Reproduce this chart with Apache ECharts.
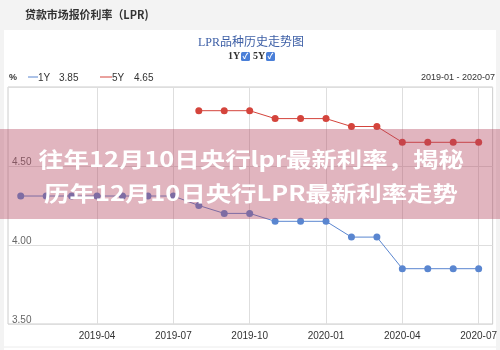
<!DOCTYPE html>
<html><head><meta charset="utf-8">
<script src="https://cdn.jsdelivr.net/npm/echarts@6/dist/echarts.min.js"></script>
<style>html,body{margin:0;padding:0;background:#f3f3f3}#c{width:500px;height:350px}</style>
</head><body><div id="c"></div>
<script>
// ---- data ----
const months = ["2019-01","2019-02","2019-03","2019-04","2019-05","2019-06","2019-07","2019-08","2019-09","2019-10","2019-11","2019-12","2020-01","2020-02","2020-03","2020-04","2020-05","2020-06","2020-07"];
const lpr1Y = [4.31,4.31,4.31,4.31,4.31,4.31,4.31,4.25,4.20,4.20,4.15,4.15,4.15,4.05,4.05,3.85,3.85,3.85,3.85];
const lpr5Y = [null,null,null,null,null,null,null,4.85,4.85,4.85,4.80,4.80,4.80,4.75,4.75,4.65,4.65,4.65,4.65];
const xTickMonths = ["2019-04","2019-07","2019-10","2020-01","2020-04","2020-07"];
const yTicks = [3.5, 4.0, 4.5, 5.0];
const headerText = "贷款市场报价利率（LPR)";
const chartTitle = "LPR品种历史走势图";
const bannerLine1 = "往年12月10日央行lpr最新利率，揭秘";
const bannerLine2 = "历年12月10日央行LPR最新利率走势";

const blue = '#5a86d0', red = '#d4443c';
const sans = '"Liberation Sans", Arial, "Noto Sans CJK SC", sans-serif';
const cjk = '"Noto Sans CJK SC", sans-serif';
const serif = '"Liberation Serif", "DejaVu Serif", "Noto Sans CJK SC", serif';

const d1 = lpr1Y.map((v,i)=>[i,v]);
const d5 = lpr5Y.map((v,i)=>[i,v]).filter(p=>p[1]!==null);
const last1 = lpr1Y[lpr1Y.length-1].toFixed(2);
const last5 = lpr5Y[lpr5Y.length-1].toFixed(2);
const tickIdx = xTickMonths.map(m=>months.indexOf(m));

const chart = echarts.init(document.getElementById('c'), null, {renderer:'canvas'});
chart.setOption({
  backgroundColor: '#f3f3f3',
  animation: false,
  grid: {left: 8, top: 87, right: 3, bottom: 26, show: true, borderColor: '#cccccc', borderWidth: 1, backgroundColor: '#fff'},
  xAxis: {
    type: 'value', min: -0.5, max: 18.55,
    axisLine: {show: false}, axisTick: {show: false, customValues: tickIdx},
    splitLine: {show: true, lineStyle: {color: '#dedede', width: 1}},
    axisLabel: {customValues: tickIdx, formatter: v => months[Math.round(v)] || '', color: '#333', fontSize: 10, fontFamily: sans, margin: 7}
  },
  yAxis: {
    type: 'value', min: yTicks[0], max: yTicks[yTicks.length-1], interval: 0.5,
    axisLine: {show: false}, axisTick: {show: false},
    splitLine: {show: true, lineStyle: {color: '#dedede', width: 1}},
    axisLabel: {inside: true, showMaxLabel: false, margin: 4, verticalAlign: 'bottom', formatter: v => v.toFixed(2), color: '#666', fontSize: 10, fontFamily: sans, padding: [0,0,-1,0]}
  },
  series: [
    {name: '1Y', type: 'line', data: d1, symbol: 'circle', symbolSize: 7, lineStyle: {color: blue, width: 1}, itemStyle: {color: blue}, z: 3},
    {name: '5Y', type: 'line', data: d5, symbol: 'circle', symbolSize: 7, lineStyle: {color: red, width: 1}, itemStyle: {color: red}, z: 3}
  ],
  graphic: [
    {type: 'rect', z: -10, silent: true, shape: {x: 4, y: 30, width: 492, height: 320}, style: {fill: '#fff'}},
    {type: 'line', z: 1, shape: {x1: 4, y1: 347, x2: 496, y2: 347}, style: {stroke: '#ececec', lineWidth: 1}},
    {type: 'text', x: 25, y: 15, scaleX: 0.95, style: {text: headerText, fill: '#333', font: '600 11.5px ' + cjk, verticalAlign: 'middle'}},
    {type: 'text', x: 251, y: 43, style: {text: chartTitle, fill: '#3d5fa6', font: '12px ' + serif, align: 'center', verticalAlign: 'middle'}},
    {type: 'text', x: 228, y: 56, style: {text: '1Y', fill: '#333', font: 'bold 10px ' + serif, verticalAlign: 'middle'}},
    {type: 'rect', shape: {x: 241, y: 52, width: 9, height: 9, r: 1.5}, style: {fill: '#4a7fd8'}},
    {type: 'text', x: 245.5, y: 56.5, style: {text: '✓', fill: '#fff', font: 'bold 8px ' + sans, align: 'center', verticalAlign: 'middle'}},
    {type: 'text', x: 253, y: 56, style: {text: '5Y', fill: '#333', font: 'bold 10px ' + serif, verticalAlign: 'middle'}},
    {type: 'rect', shape: {x: 266, y: 52, width: 9, height: 9, r: 1.5}, style: {fill: '#4a7fd8'}},
    {type: 'text', x: 270.5, y: 56.5, style: {text: '✓', fill: '#fff', font: 'bold 8px ' + sans, align: 'center', verticalAlign: 'middle'}},
    {type: 'text', x: 9, y: 78, style: {text: '%', fill: '#333', font: 'bold 9px ' + sans, verticalAlign: 'middle'}},
    {type: 'line', shape: {x1: 28, y1: 77, x2: 38, y2: 77}, style: {stroke: blue, lineWidth: 1}},
    {type: 'text', x: 38, y: 78, style: {text: '1Y', fill: '#333', font: '10px ' + sans, verticalAlign: 'middle'}},
    {type: 'text', x: 59, y: 78, style: {text: last1, fill: '#333', font: '10px ' + sans, verticalAlign: 'middle'}},
    {type: 'line', shape: {x1: 100, y1: 77, x2: 112, y2: 77}, style: {stroke: red, lineWidth: 1}},
    {type: 'text', x: 112, y: 78, style: {text: '5Y', fill: '#333', font: '10px ' + sans, verticalAlign: 'middle'}},
    {type: 'text', x: 134, y: 78, style: {text: last5, fill: '#333', font: '10px ' + sans, verticalAlign: 'middle'}},
    {type: 'text', x: 495, y: 78, style: {text: months[0] + ' - ' + months[months.length-1], fill: '#333', font: '9px ' + sans, align: 'right', verticalAlign: 'middle'}},
    {type: 'rect', z: 100, silent: true, shape: {x: 0, y: 129, width: 500, height: 90}, style: {fill: 'rgba(180,70,95,0.40)'}},
    {type: 'text', z: 101, x: 251, y: 159, scaleX: 1.21, style: {text: bannerLine1, fill: '#fff', font: 'bold 21px ' + cjk, align: 'center', verticalAlign: 'middle'}},
    {type: 'text', z: 101, x: 251, y: 193, scaleX: 1.21, style: {text: bannerLine2, fill: '#fff', font: 'bold 21px ' + cjk, align: 'center', verticalAlign: 'middle'}}
  ]
});
</script></body></html>
